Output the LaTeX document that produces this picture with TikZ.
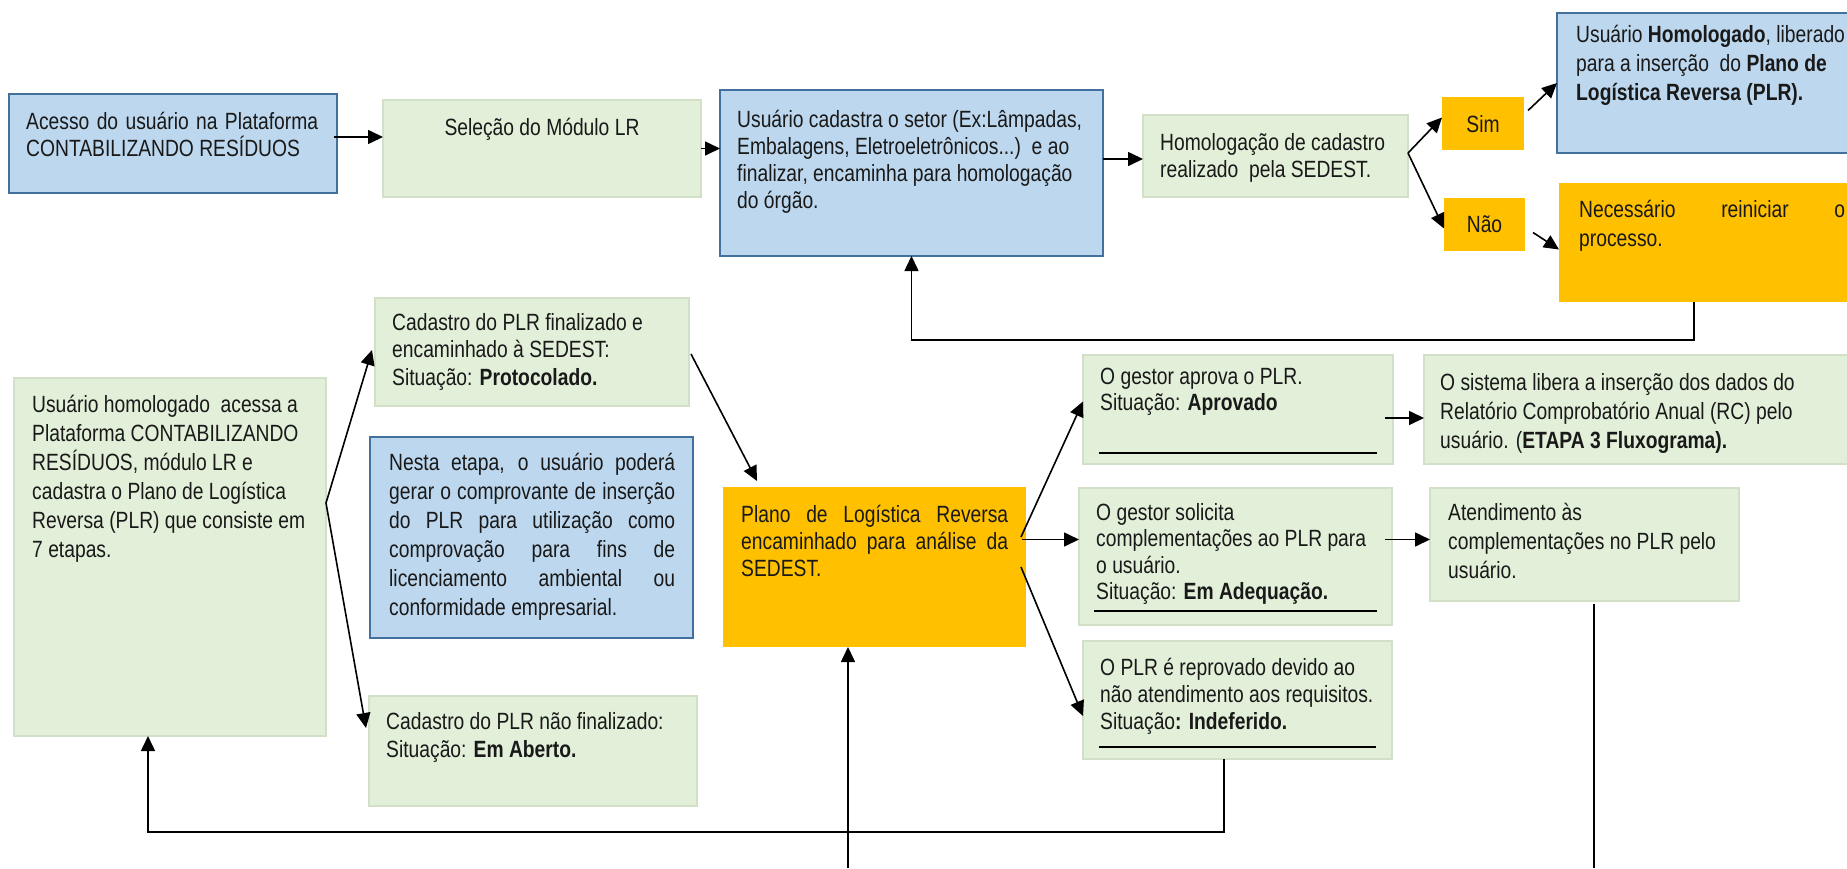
\documentclass[tikz,border=0pt]{standalone}
\usepackage{fontspec}
\setmainfont{Liberation Sans}[FakeStretch=0.82]
\usetikzlibrary{arrows.meta,calc}

\definecolor{bfill}{RGB}{189,215,238}
\definecolor{bdraw}{RGB}{65,113,156}
\definecolor{gfill}{RGB}{226,239,217}
\definecolor{gdraw}{RGB}{210,224,200}
\definecolor{ofill}{RGB}{255,192,0}
\definecolor{ink}{RGB}{25,25,25}

\tikzset{
  boxbase/.style={anchor=north west, inner sep=0pt, outer sep=0pt},
  bluebox/.style={boxbase, fill=bfill, draw=bdraw, line width=2pt},
  greenbox/.style={boxbase, fill=gfill, draw=gdraw, line width=1.5pt},
  orangebox/.style={boxbase, fill=ofill},
  arr/.style={line width=1.6pt, -{Triangle[length=15pt,width=14pt]}},
  plain/.style={line width=1.6pt},
  uline/.style={line width=2pt},
  txt/.style={anchor=base west, inner sep=0pt, text=ink},
  lbl/.style={anchor=base, inner sep=0pt, text=ink, font=\fontsize{23.5pt}{27pt}\selectfont},
}

\newcommand\bx[6]{\node[#6, minimum width=#4pt, minimum height=#5pt] (#1) at (#2,#3) {};}
\newcommand\tx[5]{\node[txt] (#1) at (#2,#3) {\begin{minipage}[t]{600pt}\fontsize{23.5pt}{#4pt}\selectfont\raggedright #5\end{minipage}};}

\begin{document}
\begin{tikzpicture}[x=1pt,y=-1pt]
\useasboundingbox (0,0) rectangle (1847,868);
\fill[white] (0,0) rectangle (1847,868);

% boxes
\bx{A}{9}{94}{328}{99}{bluebox}
\bx{B}{383}{100}{318}{97}{greenbox}
\bx{C}{720}{90}{383}{166}{bluebox}
\bx{D}{1143}{115}{265}{82}{greenbox}
\bx{S}{1442}{97}{82}{53}{orangebox}
\bx{NO}{1444}{198}{81}{53}{orangebox}
\bx{E}{1557}{13}{300}{140}{bluebox}
\bx{F}{1559}{183}{300}{119}{orangebox}
\bx{G}{375}{298}{314}{108}{greenbox}
\bx{H}{14}{378}{312}{358}{greenbox}
\bx{I}{370}{437}{323}{201}{bluebox}
\bx{J}{369}{696}{328}{110}{greenbox}
\bx{K}{723}{487}{303}{160}{orangebox}
\bx{L}{1083}{355}{310}{109}{greenbox}
\bx{M}{1424}{355}{440}{109}{greenbox}
\bx{N}{1079}{488}{313}{137}{greenbox}
\bx{O}{1430}{488}{309}{113}{greenbox}
\bx{P}{1083}{641}{309}{118}{greenbox}

% texts
\tx{tA}{26}{129}{27.5}{\makebox[292pt][s]{Acesso do usuário na Plataforma}\\CONTABILIZANDO RESÍDUOS}
\node[lbl] (tB) at (542,135) {Seleção do Módulo LR};
\tx{tC}{737}{127}{27}{Usuário cadastra o setor (Ex:Lâmpadas,\\Embalagens, Eletroeletrônicos...)\ \ e ao\\finalizar, encaminha para homologação\\do órgão.}
\tx{tD}{1160}{150}{27}{Homologação de cadastro\\realizado\ \ pela SEDEST.}
\node[lbl] (tS) at (1483,132) {Sim};
\node[lbl] (tNO) at (1484.5,232) {Não};
\tx{tE}{1576}{42}{29}{Usuário \textbf{Homologado}, liberado\\para a inserção\ \ do \textbf{Plano de}\\\textbf{Logística Reversa (PLR).}}
\tx{tF}{1579}{217}{29}{\makebox[266pt][s]{Necessário reiniciar o}\\processo.}
\tx{tG}{392}{330}{27.5}{Cadastro do PLR finalizado e\\encaminhado à SEDEST:\\Situação: \textbf{Protocolado.}}
\tx{tH}{32}{412}{29}{Usuário homologado\ \ acessa a\\Plataforma CONTABILIZANDO\\RESÍDUOS, módulo LR e\\cadastra o Plano de Logística\\Reversa (PLR) que consiste em\\7 etapas.}
\tx{tI}{389}{470}{29}{\makebox[286pt][s]{Nesta etapa, o usuário poderá}\\\makebox[286pt][s]{gerar o comprovante de inserção}\\\makebox[286pt][s]{do PLR para utilização como}\\\makebox[286pt][s]{comprovação para fins de}\\\makebox[286pt][s]{licenciamento ambiental ou}\\conformidade empresarial.}
\tx{tJ}{386}{729}{28}{Cadastro do PLR não finalizado:\\Situação: \textbf{Em Aberto.}}
\tx{tK}{741}{522}{27}{\makebox[267pt][s]{Plano de Logística Reversa}\\\makebox[267pt][s]{encaminhado para análise da}\\SEDEST.}
\tx{tL}{1100}{384}{26}{O gestor aprova o PLR.\\Situação: \textbf{Aprovado}}
\tx{tM}{1440}{390}{29}{O sistema libera a inserção dos dados do\\Relatório Comprobatório Anual (RC) pelo\\usuário. (\textbf{ETAPA 3 Fluxograma).}}
\tx{tN}{1096}{520}{26.5}{O gestor solicita\\complementações ao PLR para\\o usuário.\\Situação: \textbf{Em Adequação.}}
\tx{tO}{1448}{520}{29}{Atendimento às\\complementações no PLR pelo\\usuário.}
\tx{tP}{1100}{675}{27}{O PLR é reprovado devido ao\\não atendimento aos requisitos.\\Situação\textbf{: Indeferido.}}

% underlines inside boxes
\draw[uline] ([xshift=16pt,yshift=11pt]L.south west) -- ([xshift=-16pt,yshift=11pt]L.south east);
\draw[uline] ([xshift=15pt,yshift=14pt]N.south west) -- ([xshift=-15pt,yshift=14pt]N.south east);
\draw[uline] ([xshift=16pt,yshift=12pt]P.south west) -- ([xshift=-16pt,yshift=12pt]P.south east);

% connectors, top row
\draw[arr] ([xshift=-3pt,yshift=6.5pt]A.east) -- ([yshift=6.5pt]A.east -| B.west);
\draw[arr] (B.east) -- (B.east -| C.west);
\draw[arr] ([yshift=-3pt]D.west -| C.east) -- ([yshift=-3pt]D.west);
\draw[arr] ([yshift=3pt]D.east) -- ([yshift=6pt]S.west);
\draw[arr] ([yshift=3pt]D.east) -- ([yshift=-4pt]NO.west);
\draw[arr] ([xshift=4pt,yshift=13pt]S.east) -- (E.west);
\draw[arr] ([xshift=8pt,yshift=-8pt]NO.east) -- ([yshift=-7pt]F.west);
\coordinate (fb1) at (1694,340);
\draw[arr] (F.south -| fb1) -- (fb1) -- (fb1 -| C.south) -- (C.south);

% connectors, lower part
\draw[arr] ([yshift=54pt]H.east) -- ([xshift=-3pt,yshift=2pt]G.west);
\draw[arr] ([yshift=54pt]H.east) -- ([xshift=-3pt,yshift=23pt]J.west);
\draw[arr] ([xshift=2pt,yshift=-2pt]G.east) -- ([xshift=34pt,yshift=6pt]K.north west);
\draw[arr] ([xshift=-5pt,yshift=30pt]K.east) -- ([yshift=8pt]L.west);
\draw[arr] ([xshift=-4pt,yshift=17pt]N.west -| K.east) -- ([yshift=17pt]N.west);
\draw[arr] ([xshift=-5pt]K.east) -- ([yshift=-16pt]P.west);
\draw[arr] ([xshift=-8pt,yshift=-8.5pt]L.east) -- ([yshift=-8.5pt]L.east -| M.west);
\draw[arr] ([xshift=-7pt,yshift=5pt]O.west -| N.east) -- ([yshift=5pt]O.west);
\coordinate (fb2) at (1224,832);
\coordinate (fb3) at (148,832);
\draw[arr] (P.south -| fb2) -- (fb2) -- (fb3) -- (fb3 |- H.south);
\coordinate (kin) at (848,868);
\draw[arr] (kin) -- (kin |- K.south);
\coordinate (oout) at (1594,868);
\draw[plain] ([yshift=-3pt]O.south -| oout) -- (oout);
\end{tikzpicture}
\end{document}
